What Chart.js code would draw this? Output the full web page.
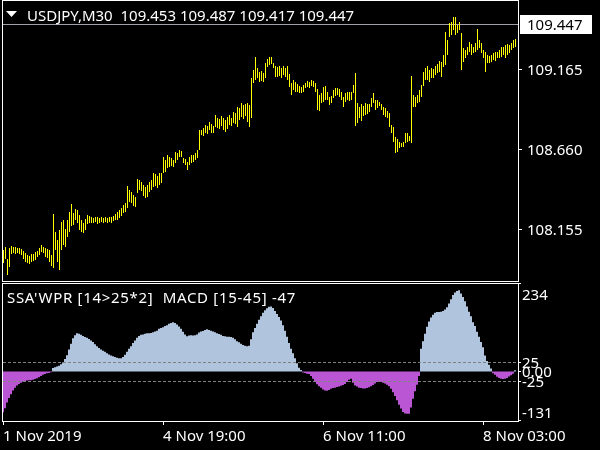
<!DOCTYPE html>
<html>
<head>
<meta charset="utf-8">
<script src="https://cdn.jsdelivr.net/npm/chart.js@4.4.0/dist/chart.umd.min.js"></script>
<style>
  body { margin: 0; background: #000; }
  #wrap { position: relative; width: 600px; height: 450px; background: #000; }
  canvas { position: absolute; left: 0; top: 0; }
</style>
</head>
<body>
<div id="wrap">
  <canvas id="priceChart" width="600" height="450"></canvas>
  <canvas id="macdChart" width="600" height="450"></canvas>
</div>
<script>
// USDJPY M30 bars (high / low)
var highs = [
  108.023,108.042,107.966,108.035,108.048,108.042,108.042,108.035,108.035,108.029,
  108.016,108.004,107.991,107.985,107.997,107.997,108.010,108.016,108.035,108.054,
  108.042,108.035,108.029,108.023,107.991,108.250,108.136,108.086,108.149,108.200,
  108.212,108.155,108.212,108.263,108.313,108.256,108.282,108.275,108.244,108.212,
  108.193,108.218,108.244,108.237,108.231,108.225,108.231,108.231,108.225,108.231,
  108.225,108.231,108.225,108.231,108.231,108.237,108.250,108.263,108.275,108.288,
  108.307,108.320,108.427,108.402,108.389,108.370,108.357,108.471,108.465,108.452,
  108.433,108.420,108.433,108.452,108.465,108.509,108.502,108.490,108.509,108.509,
  108.610,108.591,108.622,108.610,108.603,108.591,108.641,108.635,108.654,108.648,
  108.603,108.597,108.578,108.610,108.622,108.622,108.635,108.654,108.780,108.780,
  108.793,108.812,108.806,108.831,108.818,108.806,108.875,108.856,108.850,108.869,
  108.856,108.843,108.862,108.875,108.856,108.894,108.888,108.925,108.919,108.951,
  108.938,108.944,108.951,108.938,109.109,109.159,109.241,109.172,109.146,109.153,
  109.140,109.203,109.229,109.241,109.241,109.203,109.184,109.178,109.184,109.172,
  109.184,109.172,109.184,109.134,109.077,109.096,109.083,109.071,109.058,109.052,
  109.064,109.077,109.090,109.083,109.096,109.090,109.077,109.039,109.001,109.014,
  109.052,109.058,109.020,108.989,108.995,109.033,109.045,109.045,109.039,109.020,
  108.989,109.014,109.020,109.020,109.020,109.064,109.140,108.951,108.925,108.944,
  108.932,108.951,108.944,108.944,108.982,109.014,108.970,108.970,108.957,108.944,
  108.925,108.919,108.900,108.888,108.812,108.799,108.736,108.723,108.705,108.698,
  108.705,108.761,108.761,108.742,109.121,109.001,108.989,109.001,109.033,109.064,
  109.146,109.172,109.184,109.159,109.172,109.165,109.184,109.197,109.216,109.210,
  109.254,109.399,109.349,109.456,109.462,109.494,109.494,109.443,109.462,109.393,
  109.298,109.285,109.304,109.336,109.323,109.304,109.330,109.418,109.349,109.330,
  109.285,109.273,109.254,109.247,109.254,109.266,109.273,109.273,109.285,109.304,
  109.304,109.317,109.323,109.317,109.330,109.349,109.355
];
var lows = [
  107.941,107.966,107.865,107.915,107.997,108.004,107.997,108.004,107.997,107.991,
  107.966,107.947,107.941,107.934,107.947,107.953,107.960,107.979,107.991,108.010,
  108.004,107.979,107.972,107.947,107.922,107.909,108.023,107.947,107.897,108.023,
  108.054,108.042,108.105,108.136,108.174,108.181,108.212,108.193,108.149,108.136,
  108.130,108.149,108.187,108.193,108.193,108.193,108.200,108.187,108.193,108.200,
  108.193,108.200,108.193,108.200,108.193,108.206,108.212,108.212,108.225,108.237,
  108.256,108.263,108.288,108.326,108.320,108.301,108.294,108.383,108.402,108.395,
  108.364,108.351,108.357,108.389,108.402,108.420,108.427,108.414,108.433,108.446,
  108.509,108.515,108.540,108.547,108.553,108.547,108.572,108.591,108.610,108.610,
  108.572,108.559,108.528,108.559,108.572,108.578,108.591,108.603,108.654,108.749,
  108.742,108.761,108.755,108.780,108.761,108.761,108.799,108.793,108.787,108.806,
  108.780,108.768,108.787,108.812,108.806,108.824,108.818,108.799,108.843,108.862,
  108.850,108.869,108.831,108.799,108.856,109.077,109.096,109.109,109.083,109.090,
  109.083,109.109,109.178,109.191,109.197,109.172,109.115,109.115,109.121,109.109,
  109.128,109.115,109.096,109.052,109.001,109.033,109.020,109.020,109.014,109.014,
  109.020,109.045,109.052,109.045,109.058,109.052,109.020,108.907,108.900,108.951,
  108.957,108.970,108.970,108.938,108.951,108.982,108.995,109.001,108.989,108.970,
  108.925,108.957,108.970,108.963,108.970,109.014,108.806,108.824,108.856,108.837,
  108.869,108.875,108.881,108.894,108.925,108.951,108.907,108.919,108.932,108.907,
  108.875,108.862,108.856,108.799,108.761,108.705,108.635,108.641,108.667,108.673,
  108.673,108.698,108.705,108.711,108.698,108.925,108.925,108.951,108.957,108.989,
  109.058,109.096,109.096,109.083,109.109,109.109,109.128,109.140,109.146,109.115,
  109.178,109.191,109.254,109.367,109.380,109.412,109.380,109.393,109.412,109.159,
  109.210,109.235,109.254,109.273,109.254,109.266,109.273,109.285,109.298,109.266,
  109.235,109.146,109.203,109.203,109.210,109.222,109.216,109.235,109.235,109.241,
  109.254,109.235,109.254,109.266,109.285,109.298,109.304
];
// SSA'WPR / MACD histogram
var macd = [
  -108,-97,-82,-70,-60,-50,-43,-37,-33,-30,
  -27,-25,-24,-23,-23,-22,-20,-18,-15,-12,
  -9,-7,-5,-4,-2,9,11,13,15,19,
  24,33,43,58,73,88,96,101,100,97,
  94,91,89,86,82,78,72,67,62,58,
  55,52,48,45,42,40,38,36,35,35,
  38,44,52,60,67,75,82,89,94,97,
  98,100,101,101,102,104,106,108,113,115,
  117,120,122,126,128,130,128,124,119,113,
  105,98,93,95,96,95,96,98,103,106,
  107,110,112,110,108,106,104,101,99,97,
  94,93,92,92,91,89,85,80,77,73,
  70,68,67,68,85,104,115,126,137,146,
  155,162,167,171,172,168,160,152,144,135,
  122,108,92,75,60,48,35,22,10,4,
  -3,-4,-6,-7,-12,-19,-27,-34,-39,-43,
  -48,-50,-51,-49,-46,-44,-43,-41,-40,-38,
  -36,-33,-28,-22,-19,-30,-37,-40,-43,-44,
  -45,-45,-44,-42,-39,-36,-32,-28,-27,-28,
  -30,-32,-35,-39,-46,-55,-65,-76,-88,-98,
  -107,-111,-112,-112,-95,-72,-52,-35,-12,60,
  80,100,118,132,143,150,155,157,157,158,
  160,164,170,180,191,202,209,213,215,206,
  197,186,172,158,146,130,120,105,92,78,
  64,42,28,18,8,-5,-9,-14,-17,-19,
  -20,-19,-17,-13,-10,-6,3
];

var priceTicks = [109.165, 108.660, 108.155];
var bidPrice = 109.447;
var priceMin = 107.827, priceMax = 109.601;
var macdTicks = [234, 25, 0, -25, -131];
var macdLevels = [25, -25];
var macdMin = -131, macdMax = 234;
var timeLabels = ['1 Nov 2019', '4 Nov 19:00', '6 Nov 11:00', '8 Nov 03:00'];
var timeIndex = [0, 80, 160, 240];
var titleText = 'USDJPY,M30  109.453 109.487 109.417 109.447';
var subTitle = "SSA'WPR [14>25*2]  MACD [15-45] -47";

var FONT = '15px "Noto Sans"';
var idx = highs.map(function (h, i) { return i; });

// top pane: frame, bid line, price axis, title
var pricePane = {
  id: 'pricePane',
  beforeDatasetsDraw: function (chart) {
    var ctx = chart.ctx, y = chart.scales.y;
    var by = Math.round(y.getPixelForValue(bidPrice)) + 0.5;
    ctx.save();
    ctx.strokeStyle = '#a0a0a8';
    ctx.lineWidth = 1;
    ctx.beginPath();
    ctx.moveTo(3, by); ctx.lineTo(518, by);
    ctx.stroke();
    ctx.restore();
  },
  afterDraw: function (chart) {
    var ctx = chart.ctx, y = chart.scales.y;
    ctx.save();
    ctx.fillStyle = '#fff';
    // frame
    ctx.fillRect(2, 0, 517, 1);
    ctx.fillRect(2, 281, 517, 1);
    ctx.fillRect(2, 0, 1, 282);
    ctx.fillRect(518, 0, 1, 282);
    ctx.font = FONT;
    ctx.textBaseline = 'alphabetic';
    priceTicks.forEach(function (v) {
      var py = y.getPixelForValue(v);
      ctx.fillStyle = '#fff';
      ctx.fillRect(518, Math.round(py), 4, 1);
      ctx.fillText(v.toFixed(3), 527, py + 5.5);
    });
    // bid label
    var by = y.getPixelForValue(bidPrice);
    ctx.fillStyle = '#fff';
    ctx.fillRect(520, Math.round(by) - 9, 72, 19);
    ctx.fillStyle = '#000';
    ctx.fillText(bidPrice.toFixed(3), 527, by + 5.5);
    // title
    ctx.fillStyle = '#fff';
    ctx.beginPath();
    ctx.moveTo(6, 11); ctx.lineTo(17, 11); ctx.lineTo(11.5, 17);
    ctx.closePath();
    ctx.fill();
    ctx.fillText(titleText, 27, 21);
    ctx.restore();
  }
};

// bottom pane: levels, frame, axis labels, time axis
var macdPane = {
  id: 'macdPane',
  afterDatasetsDraw: function (chart) {
    var ctx = chart.ctx, y = chart.scales.y;
    ctx.save();
    ctx.strokeStyle = '#808080';
    ctx.lineWidth = 1;
    ctx.setLineDash([3, 2]);
    macdLevels.forEach(function (v) {
      var py = Math.round(y.getPixelForValue(v)) + 0.5;
      ctx.beginPath();
      ctx.moveTo(3, py); ctx.lineTo(518, py);
      ctx.stroke();
    });
    ctx.restore();
  },
  afterDraw: function (chart) {
    var ctx = chart.ctx, y = chart.scales.y, x = chart.scales.x;
    ctx.save();
    ctx.fillStyle = '#fff';
    ctx.fillRect(2, 283, 517, 1);
    ctx.fillRect(2, 421, 517, 1);
    ctx.fillRect(2, 283, 1, 139);
    ctx.fillRect(518, 283, 1, 139);
    ctx.font = FONT;
    ctx.textBaseline = 'alphabetic';
    macdTicks.forEach(function (v) {
      var py = y.getPixelForValue(v);
      var ty = py + 6;
      if (v === macdMax) ty = py + 17;
      if (v === macdMin) ty = py - 3.5;
      ctx.fillRect(518, Math.min(Math.round(py), 420), 3, 1);
      ctx.fillText(v === 0 ? '0.00' : String(v), 522, ty);
    });
    timeIndex.forEach(function (t, k) {
      var px = Math.round(x.getPixelForValue(t));
      ctx.fillRect(px, 421, 1, 4);
      ctx.fillText(timeLabels[k], px, 441);
    });
    ctx.letterSpacing = '0.7px';
    ctx.fillText(subTitle, 7, 303);
    ctx.restore();
  }
};

new Chart(document.getElementById('priceChart'), {
  type: 'bar',
  data: {
    labels: idx,
    datasets: [{
      data: highs.map(function (h, i) { return [lows[i], h]; }),
      backgroundColor: '#ffff00',
      borderWidth: 0,
      barThickness: 1,
      inflateAmount: 0
    }]
  },
  options: {
    responsive: false,
    animation: false,
    devicePixelRatio: 1,
    layout: { padding: { left: 2.5, right: 83.5, top: 0, bottom: 169 } },
    plugins: { legend: { display: false }, tooltip: { enabled: false } },
    scales: {
      x: { display: false },
      y: { display: false, min: priceMin, max: priceMax }
    }
  },
  plugins: [pricePane]
});

new Chart(document.getElementById('macdChart'), {
  type: 'bar',
  data: {
    labels: idx,
    datasets: [{
      data: macd,
      backgroundColor: macd.map(function (v) { return v >= 0 ? '#b0c4de' : '#ba55d3'; }),
      borderWidth: 0,
      barPercentage: 1,
      categoryPercentage: 1,
      inflateAmount: 0
    }]
  },
  options: {
    responsive: false,
    animation: false,
    devicePixelRatio: 1,
    layout: { padding: { left: 2, right: 84, top: 283, bottom: 29 } },
    plugins: { legend: { display: false }, tooltip: { enabled: false } },
    scales: {
      x: { display: false },
      y: { display: false, min: macdMin, max: macdMax }
    }
  },
  plugins: [macdPane]
});
</script>
</body>
</html>
